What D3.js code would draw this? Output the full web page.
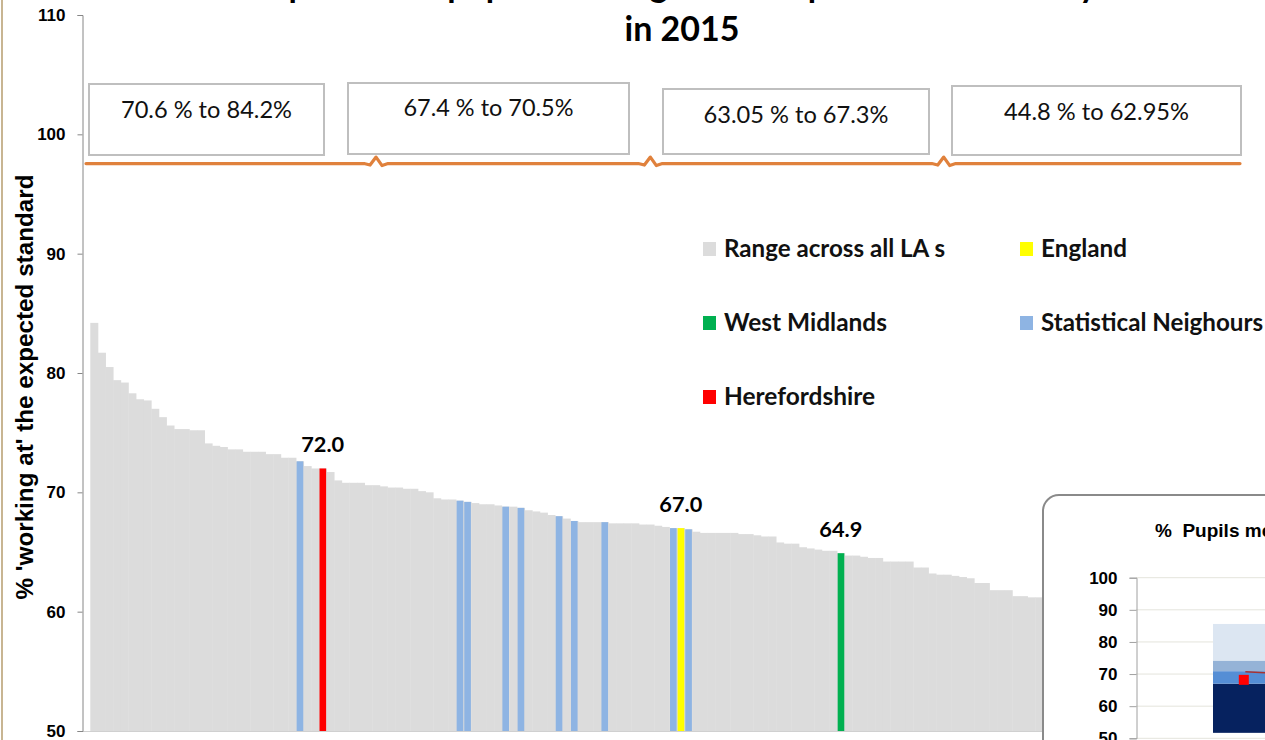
<!DOCTYPE html>
<html><head><meta charset="utf-8">
<script src="https://cdn.jsdelivr.net/npm/d3@7"></script>
<style>body{margin:0;background:#fff;overflow:hidden}svg{display:block}</style>
</head><body><svg id="c" width="1265" height="740"></svg>
<script>
// ---------- DATA ----------
const laValues = [
 84.2,81.7,80.5,79.4,79.2,78.3,77.8,77.7,77.0,76.3,
 75.6,75.3,75.3,75.2,75.2,74.1,73.9,73.8,73.6,73.6,
 73.4,73.4,73.4,73.2,73.2,72.9,72.9,72.6,72.2,72.0,
 72.0,71.7,71.0,70.8,70.8,70.8,70.6,70.6,
 70.5,70.4,70.4,70.3,70.3,70.1,70.0,69.5,69.4,69.4,
 69.3,69.2,69.1,69.0,69.0,68.9,68.8,68.8,68.7,68.5,
 68.4,68.3,68.1,68.0,67.8,67.6,67.5,67.5,67.5,67.5,
 67.4,67.4,67.4,67.4,67.3,67.3,67.2,67.1,67.0,67.0,
 66.9,66.7,66.6,66.6,66.6,66.6,66.6,66.5,66.5,66.4,
 66.3,66.3,65.8,65.7,65.7,65.4,65.3,65.2,65.1,65.1,
 64.9,64.7,64.7,64.6,64.5,64.5,64.2,64.2,64.2,64.2,
 63.7,63.7,63.2,63.1,63.1,63.0,62.9,62.8,62.4,62.4,
 61.8,61.8,61.8,61.3,61.3,61.2,61.2,61.0,60.8,60.6,
 60.4,60.2,60.0,59.8,59.5,59.2,59.0,58.7,58.4,58.0,
 57.6,57.2,56.8,56.3,55.8,55.2,54.6,53.9,53.0,52.0,
 50.8,49.3,47.5,44.8
];
const statNeighbourIdx = [27,48,49,54,56,61,63,67,76,78];
const herefordshireIdx = [30];
const englandIdx = [77];
const westMidlandsIdx = [98];
const labelledIdx = [30,77,98];
const yTicks = [50,60,70,80,90,100,110];
const quartileLabels = ["70.6 % to 84.2%","67.4 % to 70.5%","63.05 % to 67.3%","44.8 % to 62.95%"];
const quartileBreaks = [37.5,73.5,112]; // in bar counts
const legendNames = ["Range across all LA s","England","West Midlands","Statistical Neighours","Herefordshire"];
const titleLines = ["Comparison of pupils working at the expected standard by LA","in 2015"];
const yTitle = "% 'working at' the expected standard";

// inset
const insetTitle = "%  Pupils meeting the expected standard";
const insetTicks = [50,60,70,80,90,100];
const insetCategories = ["Reading"];
const insetSegments = [[51.7,67.0],[67.0,70.9],[70.9,74.2],[74.2,85.6]];
const insetMarker = [68.2];
const insetLine = [70.7,69.9];

// ---------- STYLE / LAYOUT ----------
const C = {gray:"#dcdcdc", blue:"#8eb4e3", red:"#ff0000", yellow:"#ffff00", green:"#00b050", orange:"#e0813c"};
const groupColor = {la:C.gray, sn:C.blue, h:C.red, eng:C.yellow, wm:C.green};
const svg = d3.select("#c");
const squeeze = (sel, w) => sel.attr("textLength", w).attr("lengthAdjust","spacingAndGlyphs");

const groups = laValues.map((v,i)=> statNeighbourIdx.includes(i)?"sn": herefordshireIdx.includes(i)?"h": englandIdx.includes(i)?"eng": westMidlandsIdx.includes(i)?"wm":"la");

const x = d3.scaleBand().domain(d3.range(laValues.length)).range([90.3, 90.3 + laValues.length*7.62]).padding(0);
const y = d3.scaleLinear().domain([50,110]).range([731,15]);
const xi = d3.scaleLinear().domain([0, laValues.length]).range(x.range());

// left window border
svg.append("rect").attr("x",1).attr("y",0).attr("width",2).attr("height",740).attr("fill","#c8b592");

// title
const title = svg.append("text").attr("text-anchor","middle").attr("font-family","Lato").attr("font-weight","bold").attr("font-size",34).attr("fill","#000");
title.append("tspan").attr("x",682).attr("y",-3).text(titleLines[0]);
title.append("tspan").attr("x",682).attr("y",41).text(titleLines[1]);

// gray bars
const clampV = v => Math.max(50, v);
svg.append("g").selectAll("rect").data(laValues).join("rect")
  .attr("x",(d,i)=>x(i)).attr("width",x.bandwidth()+0.4)
  .attr("y",d=>y(clampV(d))).attr("height",d=>y(50)-y(clampV(d)))
  .attr("fill",C.gray);
// highlighted bars
const hl = laValues.map((v,i)=>({v,i,g:groups[i]})).filter(d=>d.g!=="la");
svg.append("g").selectAll("rect").data(hl).join("rect")
  .attr("x",d=>x(d.i)+0.6).attr("width",x.bandwidth()-1.0)
  .attr("y",d=>y(d.v)).attr("height",d=>y(50)-y(d.v))
  .attr("fill",d=>groupColor[d.g]);

// value labels
svg.append("g").selectAll("text").data(labelledIdx).join("text")
  .attr("x",i=>x(i)+x.bandwidth()/2).attr("y",i=>y(laValues[i])-16)
  .attr("text-anchor","middle").attr("font-family","Lato").attr("font-weight","bold").attr("font-size",21)
  .attr("textLength",43).attr("lengthAdjust","spacingAndGlyphs")
  .text(i=>d3.format(".1f")(laValues[i]));

// x baseline
svg.append("line").attr("x1",82).attr("x2",x.range()[1]).attr("y1",y(50)+0.5).attr("y2",y(50)+0.5).attr("stroke","#d0d0d0");

// y axis
const ya = svg.append("g").attr("transform","translate(82.5,0)")
  .call(d3.axisLeft(y).tickValues(yTicks).tickSize(5).tickPadding(12).tickFormat(d3.format("d")));
ya.select(".domain").attr("stroke","#868686");
ya.selectAll(".tick line").attr("stroke","#868686");
ya.selectAll("text").attr("font-family","Liberation Sans, Arial").attr("font-weight","bold").attr("font-size",17).attr("fill","#000");

// y title
const yt = svg.append("text").attr("transform","translate(33,387) rotate(-90)").attr("text-anchor","middle")
  .attr("font-family","Liberation Sans, Arial").attr("font-weight","bold").attr("font-size",23).text(yTitle);
squeeze(yt, 425);

// brace
const braceY = y(97.55);
const p = d3.path();
p.moveTo(86, braceY);
quartileBreaks.forEach(b=>{
  const bx = xi(b);
  p.lineTo(bx-12, braceY); p.lineTo(bx-6, braceY+1.5); p.lineTo(bx, braceY-6.5); p.lineTo(bx+6, braceY+2); p.lineTo(bx+12, braceY);
});
p.lineTo(1240, braceY);
svg.append("path").attr("d",p.toString()).attr("fill","none").attr("stroke",C.orange).attr("stroke-width",3.2).attr("stroke-linejoin","round").attr("stroke-linecap","round");

// range boxes
const boxLayout = [
  {x:89,y:84,w:235,h:71,cy:110,tw:171},
  {x:348,y:83,w:281,h:71,cy:108,tw:170},
  {x:663,y:89,w:266,h:65,cy:115,tw:185},
  {x:952,y:86,w:289,h:69,cy:111.5,tw:185}
];
quartileLabels.forEach((t,k)=>{
  const b = boxLayout[k];
  svg.append("rect").attr("x",b.x).attr("y",b.y).attr("width",b.w).attr("height",b.h).attr("fill","#fff").attr("stroke","#bfbfbf").attr("stroke-width",2);
  const tx = svg.append("text").attr("x",b.x+b.w/2).attr("y",b.cy).attr("dy","0.35em").attr("text-anchor","middle")
    .attr("font-family","Lato").attr("font-size",23).attr("fill","#111").text(t);
  squeeze(tx, b.tw);
});

// legend
const legendLayout = [
  {x:703,y:249,c:C.gray,w:221},{x:1020,y:249,c:C.yellow,w:86},
  {x:703,y:323,c:C.green,w:163},{x:1020,y:323,c:C.blue,w:222},
  {x:703,y:397,c:C.red,w:151}
];
legendNames.forEach((n,k)=>{
  const L = legendLayout[k];
  svg.append("rect").attr("x",L.x).attr("y",L.y-7).attr("width",13).attr("height",14).attr("fill",L.c);
  const t = svg.append("text").attr("x",L.x+21).attr("y",L.y+8).attr("font-family","Lato").attr("font-weight","bold").attr("font-size",24).attr("fill","#111").text(n);
  squeeze(t, L.w);
});

// ---------- INSET ----------
const inset = svg.append("g");
inset.append("rect").attr("x",1043).attr("y",495).attr("width",340).attr("height",320).attr("rx",16).attr("fill","#fff").attr("stroke","#8a8a8a").attr("stroke-width",2);
inset.append("text").attr("x",1155).attr("y",537).attr("font-family","Liberation Sans, Arial").attr("font-weight","bold").attr("font-size",19).attr("xml:space","preserve").style("white-space","pre").text(insetTitle);
const yI = d3.scaleLinear().domain([50,100]).range([738.3,577.7]);
const xI = d3.scaleBand().domain(insetCategories).range([1136,1444]).paddingInner(0).paddingOuter(0.5);
inset.append("g").selectAll("line").data(insetTicks).join("line")
  .attr("x1",1136).attr("x2",1300).attr("y1",d=>yI(d)).attr("y2",d=>yI(d)).attr("stroke","#e4e4dc");
const segColors = ["#06225f","#558ed5","#95b3d7","#dce6f2"];
inset.append("g").selectAll("rect").data(insetSegments).join("rect")
  .attr("x",xI("Reading")).attr("width",xI.bandwidth())
  .attr("y",d=>yI(d[1])).attr("height",d=>yI(d[0])-yI(d[1]))
  .attr("fill",(d,i)=>segColors[i]);
const ia = inset.append("g").attr("transform","translate(1136.5,0)")
  .call(d3.axisLeft(yI).tickValues(insetTicks).tickSize(7).tickPadding(12).tickFormat(d3.format("d")));
ia.select(".domain").attr("stroke","#a0a0a0");
ia.selectAll(".tick line").attr("stroke","#a0a0a0");
ia.selectAll("text").attr("font-family","Liberation Sans, Arial").attr("font-weight","bold").attr("font-size",17).attr("fill","#000");
const bx0 = xI("Reading"), bw = xI.bandwidth();
inset.append("path").attr("d", d3.line()([[bx0+0.21*bw, yI(insetLine[0])],[bx0+0.6*bw, yI(insetLine[1])]]))
  .attr("stroke","#a83232").attr("stroke-width",1.5).attr("fill","none");
inset.selectAll(".mk").data(insetMarker).join("rect").attr("class","mk")
  .attr("x",bx0+0.2*bw-5).attr("y",d=>yI(d)-5).attr("width",10).attr("height",10).attr("fill","#ff0000");
</script></body></html>
